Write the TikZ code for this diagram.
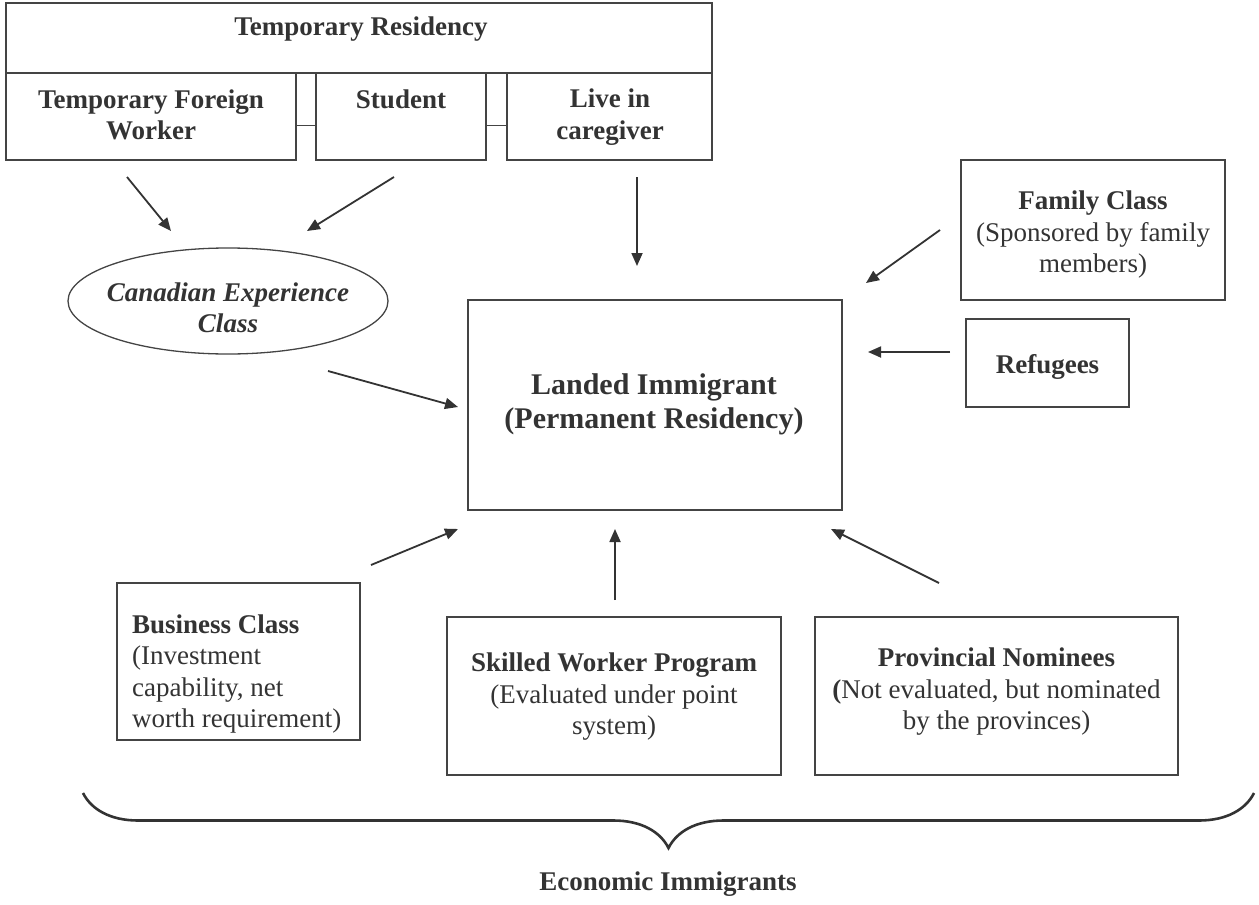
\documentclass[tikz,border=0pt]{standalone}
\usepackage{fontspec}
\setmainfont{Liberation Serif}
\usetikzlibrary{decorations.pathreplacing,shapes.geometric,arrows.meta,calc}
\definecolor{ink}{HTML}{333333}
\definecolor{edge}{HTML}{444444}
\begin{document}
\begin{tikzpicture}[x=1pt,y=-1pt,
 box/.style={draw=edge, line width=1.3pt, inner sep=0pt},
 txt/.style={text=ink, font=\fontsize{27}{31.5}\selectfont, align=center, inner sep=0pt},
 btxt/.style={txt, font=\fontsize{27}{31.5}\selectfont\bfseries},
 big/.style={text=ink, font=\fontsize{30}{34}\selectfont\bfseries, align=center, inner sep=0pt},
 arr/.style={draw=ink, line width=1.8pt, -{Triangle[length=13pt,width=11pt]}},
]
\useasboundingbox (0,0) rectangle (1259,905);
% top group
\node[box, minimum width=706, minimum height=70] (tr) at (359,38) {};
\node[box, minimum width=290, minimum height=87] (tfw) at (151,116.5) {};
\node[box, minimum width=170, minimum height=87] (stu) at (401,116.5) {};
\node[box, minimum width=205, minimum height=87] (care) at (609.5,116.5) {};
\node[btxt] (trt) at (361,29) {Temporary Residency};
\node[btxt] (tfwt) at (151,115) {Temporary Foreign\\Worker};
\node[btxt] (stut) at (401,99) {Student};
\node[btxt] (caret) at (610,117) {Live in\\caregiver};
\draw[edge, line width=1.3pt] ($(tfw.east)+(0,9)$) -- ($(stu.west)+(0,9)$);
\draw[edge, line width=1.3pt] ($(stu.east)+(0,9)$) -- ($(care.west)+(0,9)$);
% CEC
\node[box, ellipse, minimum width=320, minimum height=106] (cec) at (228,301) {};
\node[btxt, font=\fontsize{27}{31.5}\selectfont\bfseries\itshape] (cect) at (228,308) {Canadian Experience\\Class};
% landed
\node[box, minimum width=374, minimum height=210] (pr) at (655,405) {};
\node[big] (prt) at (654,404) {Landed Immigrant\\(Permanent Residency)};
% right
\node[box, minimum width=264, minimum height=140] (fam) at (1093,230) {};
\node[txt] (famt) at (1093,235) {\textbf{Family Class}\\(Sponsored by family\\members)};
\node[box, minimum width=163, minimum height=88] (ref) at (1047.5,363) {};
\node[btxt] (reft) at (1047.5,367) {Refugees};
% bottom
\node[box, minimum width=243, minimum height=157] (bus) at (238.5,661.5) {};
\node[txt, align=left, anchor=west] (bust) at (132,674) {\textbf{Business Class}\\(Investment\\capability, net\\worth requirement)};
\node[box, minimum width=334, minimum height=158] (skw) at (614,696) {};
\node[txt] (skwt) at (614,697) {\textbf{Skilled Worker Program}\\(Evaluated under point\\system)};
\node[box, minimum width=363, minimum height=158] (pn) at (996.5,696) {};
\node[txt] (pnt) at (996.5,692) {\textbf{Provincial Nominees}\\\textbf{(}Not evaluated, but nominated\\by the provinces)};
% arrows
\coordinate (a1) at (127,177); \coordinate (b1) at (171,231);
\coordinate (a2) at (394,177); \coordinate (b2) at (307,231);
\coordinate (a3) at (637,177); \coordinate (b3) at (637,266);
\coordinate (a4) at (328,371); \coordinate (b4) at (458,407);
\coordinate (a5) at (940,230); \coordinate (b5) at (866,283);
\coordinate (a6) at (950,352); \coordinate (b6) at (868,352);
\coordinate (a7) at (371,565); \coordinate (b7) at (458,529);
\coordinate (a8) at (615,600); \coordinate (b8) at (615,529);
\coordinate (a9) at (939,583); \coordinate (b9) at (831,529);
\foreach \i in {1,...,9} {\draw[arr] (a\i) -- (b\i);}
% brace
\coordinate (brl) at (83,793);
\coordinate (brr) at (1254,793);
\draw[ink, line width=2.6pt, decorate, decoration={brace, mirror, amplitude=55pt}] (brl) -- (brr);
\node[btxt] (eco) at (668,884) {Economic Immigrants};
\end{tikzpicture}
\end{document}
